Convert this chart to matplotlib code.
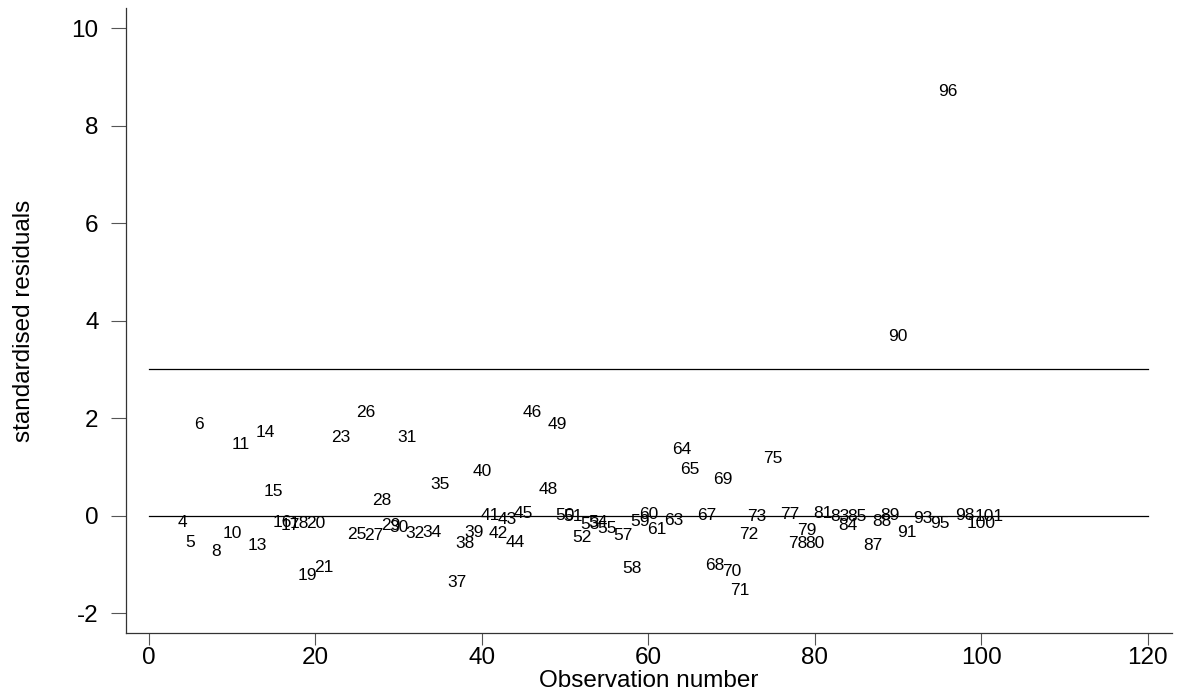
import matplotlib
matplotlib.use("Agg")
import numpy as np
import matplotlib.pyplot as plt

plt.rcParams['font.family'] = ['Liberation Sans', 'DejaVu Sans']

# observation numbers and their standardised residuals
obs = [4, 5, 6, 8, 10, 11, 13, 14, 15, 16, 17, 18, 19, 20, 21, 23, 25, 26,
       27, 28, 29, 30, 31, 32, 34, 35, 37, 38, 39, 40, 41, 42, 43, 44, 45,
       46, 48, 49, 50, 51, 52, 53, 54, 55, 57, 58, 59, 60, 61, 63, 64, 65,
       67, 68, 69, 70, 71, 72, 73, 75, 77, 78, 79, 80, 81, 83, 84, 85, 87,
       88, 89, 90, 91, 93, 95, 96, 98, 100, 101]
resid = [-0.15, -0.56, 1.87, -0.74, -0.36, 1.45, -0.62, 1.71, 0.49, -0.14,
         -0.21, -0.17, -1.23, -0.17, -1.07, 1.61, -0.38, 2.12, -0.40, 0.31,
         -0.21, -0.24, 1.60, -0.36, -0.34, 0.63, -1.37, -0.57, -0.34, 0.90,
         0.00, -0.36, -0.09, -0.55, 0.05, 2.11, 0.53, 1.86, 0.00, -0.03,
         -0.45, -0.18, -0.14, -0.27, -0.41, -1.09, -0.12, 0.03, -0.29, -0.10,
         1.35, 0.94, 0.01, -1.03, 0.74, -1.15, -1.53, -0.39, -0.03, 1.16,
         0.03, -0.57, -0.31, -0.57, 0.05, -0.02, -0.21, -0.03, -0.62, -0.12,
         0.00, 3.68, -0.34, -0.07, -0.17, 8.69, 0.00, -0.16, -0.02]
ref_lines = [0, 3]
xticks = [0, 20, 40, 60, 80, 100, 120]
yticks = [-2, 0, 2, 4, 6, 8, 10]

fig = plt.figure(figsize=(11.79, 6.97), dpi=100)
ax = fig.add_axes([0.1069, 0.0918, 0.8871, 0.8967])

# labels only, no markers
for o, r in zip(obs, resid):
    ax.text(o, r, str(o), ha='center', va='center', fontsize=12.5, color='black')

for y in ref_lines:
    ax.plot([0, 120], [y, y], color='black', lw=0.9)

ax.set_xlim(-2.76, 122.9)
ax.set_ylim(-2.41, 10.41)
ax.set_xticks(xticks)
ax.set_yticks(yticks)
ax.set_yticklabels([str(v) for v in yticks])
ax.tick_params(axis='y', length=10.8, width=0.8, color='#555555', pad=9,
               labelsize=17.5)
ax.tick_params(axis='x', length=8.6, width=0.8, color='#555555', pad=1.5,
               labelsize=17.5)
ax.set_xlabel('Observation number', fontsize=17.5, labelpad=1)
ax.set_ylabel('standardised residuals', fontsize=17.5)
ax.yaxis.set_label_coords(-0.0875, 0.5)

for side in ['top', 'right']:
    ax.spines[side].set_visible(False)
for side in ['left', 'bottom']:
    ax.spines[side].set_color('#333333')
    ax.spines[side].set_linewidth(0.9)

fig.savefig('out.png', dpi=100)
